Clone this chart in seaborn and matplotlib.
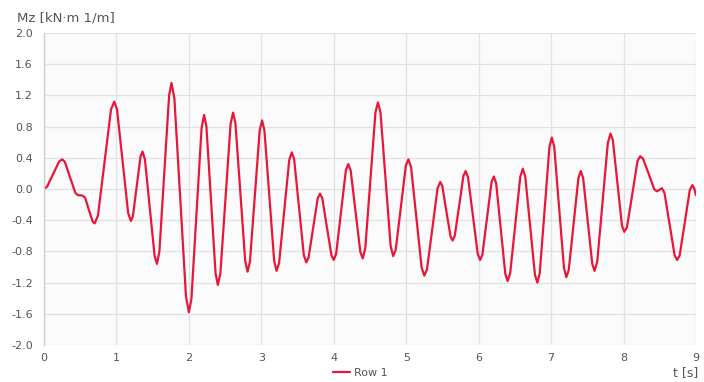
import matplotlib
matplotlib.use("Agg")
import matplotlib.pyplot as plt
import pandas as pd
import seaborn as sns

# ── Data (time [s] and Mz [kN·m 1/m]) ──────────────────────────────────────
TIME_S = [
    0.000, 0.042, 0.125, 0.208, 0.250, 0.287, 0.360, 0.433, 0.470, 0.505,
    0.540, 0.567, 0.620, 0.673, 0.700, 0.745, 0.835, 0.925, 0.970, 1.008,
    1.085, 1.162, 1.200, 1.227, 1.280, 1.333, 1.360, 1.393, 1.460, 1.527,
    1.560, 1.593, 1.660, 1.727, 1.760, 1.800, 1.880, 1.960, 2.000, 2.035,
    2.105, 2.175, 2.210, 2.242, 2.305, 2.368, 2.400, 2.435, 2.505, 2.575,
    2.610, 2.643, 2.710, 2.777, 2.810, 2.843, 2.910, 2.977, 3.010, 3.043,
    3.110, 3.177, 3.210, 3.245, 3.315, 3.385, 3.420, 3.453, 3.520, 3.587,
    3.620, 3.652, 3.715, 3.778, 3.810, 3.842, 3.905, 3.968, 4.000, 4.033,
    4.100, 4.167, 4.200, 4.233, 4.300, 4.367, 4.400, 4.435, 4.505, 4.575,
    4.610, 4.645, 4.715, 4.785, 4.820, 4.855, 4.925, 4.995, 5.030, 5.067,
    5.140, 5.213, 5.250, 5.287, 5.360, 5.433, 5.470, 5.498, 5.555, 5.612,
    5.640, 5.670, 5.730, 5.790, 5.820, 5.853, 5.920, 5.987, 6.020, 6.052,
    6.115, 6.178, 6.210, 6.242, 6.305, 6.368, 6.400, 6.435, 6.505, 6.575,
    6.610, 6.643, 6.710, 6.777, 6.810, 6.843, 6.910, 6.977, 7.010, 7.043,
    7.110, 7.177, 7.210, 7.243, 7.310, 7.377, 7.410, 7.442, 7.505, 7.568,
    7.600, 7.637, 7.710, 7.783, 7.820, 7.852, 7.915, 7.978, 8.010, 8.047,
    8.120, 8.193, 8.230, 8.268, 8.345, 8.422, 8.460, 8.495, 8.530, 8.565,
    8.635, 8.705, 8.740, 8.775, 8.845, 8.915, 8.950, 8.975, 9.000,
]
MZ = [
    0.00, 0.03, 0.19, 0.35, 0.38, 0.35, 0.15, -0.05, -0.08, -0.08,
    -0.09, -0.11, -0.27, -0.42, -0.44, -0.34, 0.34, 1.02, 1.12, 1.02,
    0.36, -0.31, -0.41, -0.35, 0.04, 0.42, 0.48, 0.38, -0.24, -0.86,
    -0.96, -0.80, 0.20, 1.20, 1.36, 1.16, -0.11, -1.38, -1.58, -1.41,
    -0.32, 0.78, 0.95, 0.80, -0.14, -1.08, -1.23, -1.08, -0.13, 0.83,
    0.98, 0.84, -0.04, -0.92, -1.06, -0.93, -0.09, 0.75, 0.88, 0.75,
    -0.09, -0.92, -1.05, -0.95, -0.29, 0.37, 0.47, 0.38, -0.24, -0.85,
    -0.94, -0.88, -0.50, -0.12, -0.06, -0.12, -0.49, -0.85, -0.91, -0.83,
    -0.30, 0.24, 0.32, 0.24, -0.29, -0.81, -0.89, -0.76, 0.11, 0.98,
    1.11, 0.98, 0.13, -0.73, -0.86, -0.78, -0.24, 0.30, 0.38, 0.28,
    -0.37, -1.01, -1.11, -1.03, -0.51, 0.01, 0.09, 0.04, -0.29, -0.61,
    -0.66, -0.60, -0.22, 0.17, 0.23, 0.15, -0.34, -0.83, -0.91, -0.84,
    -0.38, 0.09, 0.16, 0.07, -0.51, -1.09, -1.18, -1.08, -0.46, 0.16,
    0.26, 0.16, -0.47, -1.10, -1.20, -1.08, -0.27, 0.54, 0.66, 0.54,
    -0.24, -1.01, -1.13, -1.04, -0.45, 0.14, 0.23, 0.14, -0.41, -0.96,
    -1.05, -0.93, -0.17, 0.59, 0.71, 0.63, 0.08, -0.47, -0.55, -0.49,
    -0.07, 0.36, 0.42, 0.39, 0.20, 0.00, -0.03, -0.01, 0.01, -0.05,
    -0.45, -0.85, -0.91, -0.85, -0.43, -0.01, 0.05, 0.01, -0.08,
]
X_TICKS = [0, 1, 2, 3, 4, 5, 6, 7, 8, 9]
Y_TICKS = [-2.0, -1.6, -1.2, -0.8, -0.4, 0.0, 0.4, 0.8, 1.2, 1.6, 2.0]
SERIES_NAME = "Row 1"

LINE_COLOR = "#e8173a"
TEXT_COLOR = "#555555"
GRID_COLOR = "#e2e2e2"

# ── Style ────────────────────────────────────────────────────────────────────
sns.set_style("whitegrid")
plt.rcParams["font.family"] = ["DejaVu Sans"]

df = pd.DataFrame({"t": TIME_S, "Mz": MZ, "series": SERIES_NAME})

fig = plt.figure(figsize=(7.04, 3.82), dpi=100)
ax = fig.add_axes([44 / 704, 1 - 345 / 382, 652 / 704, 312 / 382])
ax.set_facecolor("#fbfbfb")

sns.lineplot(data=df, x="t", y="Mz", hue="series", palette=[LINE_COLOR],
             estimator=None, sort=False, linewidth=1.6, ax=ax, legend=False)

ax.set_xlim(0, 9)
ax.set_ylim(-2.0, 2.0)
ax.set_xticks(X_TICKS)
ax.set_yticks(Y_TICKS)
ax.set_xticklabels([str(v) for v in X_TICKS])
ax.set_yticklabels([f"{v:.1f}" for v in Y_TICKS])
ax.tick_params(axis="both", length=0, labelsize=8, labelcolor=TEXT_COLOR)
ax.tick_params(axis="y", pad=8)
ax.tick_params(axis="x", pad=6)
ax.grid(True, color=GRID_COLOR, linewidth=0.9)
ax.set_xlabel("")
ax.set_ylabel("")

for side in ["top", "right", "bottom"]:
    ax.spines[side].set_visible(False)
ax.spines["left"].set_color("#cfcfcf")
ax.spines["left"].set_linewidth(1.0)

# axis titles
fig.text(17 / 704, 1 - 18 / 382, "Mz [kN·m 1/m]", fontsize=9.5,
         color=TEXT_COLOR, ha="left", va="center")
fig.text(698 / 704, 1 - 373 / 382, "t [s]", fontsize=9,
         color=TEXT_COLOR, ha="right", va="center")

# legend
handle = plt.Line2D([], [], color=LINE_COLOR, linewidth=1.6)
fig.legend([handle], [SERIES_NAME], loc="center", ncol=1,
           bbox_to_anchor=(360 / 704, 1 - 373 / 382), frameon=False,
           fontsize=8, handlelength=1.6, handletextpad=0.3,
           labelcolor=TEXT_COLOR)

fig.savefig("out.png", dpi=100, facecolor="white")
